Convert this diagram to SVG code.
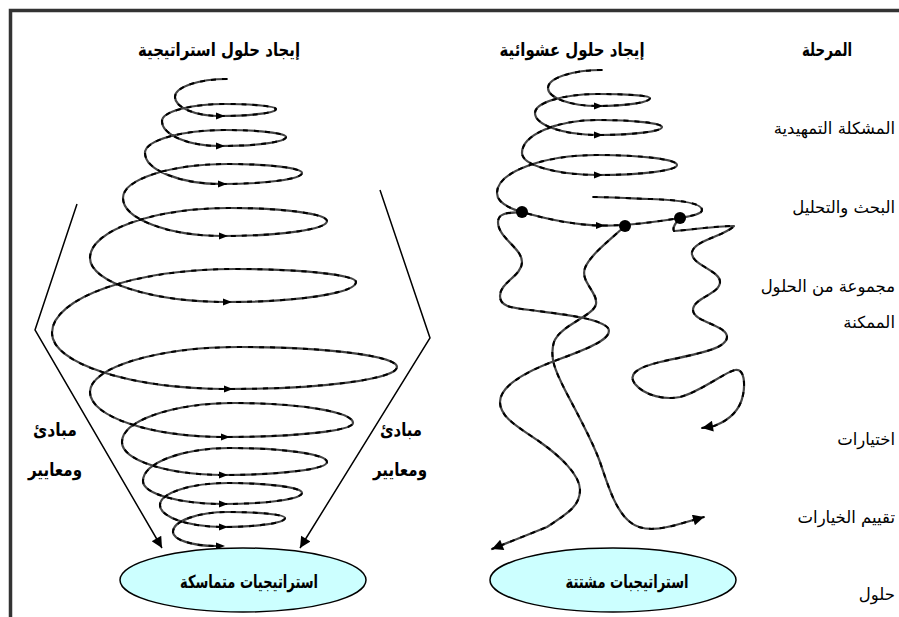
<svg xmlns="http://www.w3.org/2000/svg" xmlns:xlink="http://www.w3.org/1999/xlink" width="899" height="617" viewBox="0 0 899 617">
<style>
.t{font-family:"DejaVu Sans","Noto Sans",sans-serif;fill:#000}
.b{font-weight:bold;font-size:18px}
.n{font-size:16.5px}
.base{fill:none;stroke:#444;stroke-width:2.2;stroke-linecap:round;stroke-linejoin:round}
.dash{fill:none;stroke:#000;stroke-width:2;stroke-dasharray:5 6}
.side{fill:none;stroke:#000;stroke-width:1.5}
.ell{fill:#ccffff;stroke:#000;stroke-width:1.5}
</style>
<defs>
<marker id="tri" viewBox="0 0 10 10" refX="10" refY="5" markerWidth="14" markerHeight="11" markerUnits="userSpaceOnUse" orient="auto">
<path d="M0,0 L10,5 L0,10 Z" fill="#000"/>
</marker>
<path id="sa" d="M-4,-3.5 L5,0 L-4,3.5 Z" fill="#000"/>
<path id="spiralL" d="M227,79 C198.4,79 175,87.1 175,97 C175,107.5 195.3,116 220,116 C250.8,116 276,112.9 276,109 C276,106.3 253,104 225,104 C190.4,104 162,111.7 162,121 C162,134.8 188.1,146 220,146 C256.3,146 286,142 286,137 C286,133.2 258.6,130 225,130 C181,130 145,140.4 145,153 C145,170 179.7,184 222,184 C266,184 302,179 302,173 C302,168 268.7,164 228,164 C170.3,164 123,179.3 123,198 C123,218.9 168,236 223,236 C280.2,236 327,229.3 327,221 C327,213.9 283.4,208 230,208 C153,208 90,230.5 90,258 C90,282.2 151.7,302 227,302 C298,302 356,293 356,282 C356,274.9 301.6,269 235,269 C134.4,269 52,297.8 52,333 C52,363.8 131.2,389 228,389 C321,389 397,379.1 397,367 C397,356 326.4,347 240,347 C157.5,347 90,367.3 90,392 C90,416.8 150.8,437 225,437 C295.4,437 353,430.7 353,423 C353,412 299.9,403 235,403 C172.9,403 122,420.6 122,442 C122,460.2 167.5,475 223,475 C280.2,475 327,469.2 327,462 C327,454.3 283.4,448 230,448 C182.2,448 143,462.9 143,481 C143,493.7 179,504 223,504 C266.5,504 302,499 302,493 C302,487.5 268.7,483 228,483 C190.6,483 160,492.9 160,505 C160,517.1 188.4,527 223,527 C257.1,527 285,523 285,518 C285,514.7 259.4,512 228,512 C197.8,512 173,521 173,532 C173,539.7 192.4,546 216,546"/>
<path id="spiralR" d="M602,70 C572.3,70 548,78.1 548,88 C548,97.9 570.5,106 598,106 C626.6,106 650,102.4 650,98 C650,95.8 626.6,94 598,94 C563.4,94 535,102.6 535,113 C535,125.1 563.4,135 598,135 C633.2,135 662,131.4 662,127 C662,123.2 633.2,120 598,120 C556.2,120 522,134.9 522,153 C522,165.1 556.2,175 598,175 C641.5,175 677,170.5 677,165 C677,159.5 641.5,155 598,155 C542.5,155 497,172.1 497,193 C497,202 508,208 522,212 C550,220 575,225 600,225.5 C620,226 650,223 680,218 C692,216 702,214 702,210 C702,203 680,200 650,199 C625,198 605,197 593,197"/>
<path id="wavyA" d="M522,212 C510,213 498,212 498,222 C498,238 522,248 522,262 C522,276 500,282 500,296 C500,306 510,308 530,310 C560,314 600,318 608,328 C614,338 590,348 557,360 C530,370 500,385 500,402 C500,418 520,428 540,442 C560,456 580,475 580,490 C580,505 570,512 547,527 L492,549"/>
<path id="wavyB" d="M625,226 C610,240 590,255 585,268 C580,282 598,292 596,304 C594,316 560,325 554,342 C549,358 556,372 565,390 C578,415 592,440 600,462 C608,485 615,510 630,522 C642,532 660,530 683,523 L704,517"/>
<path id="wavyC" d="M680,218 C676,222 672,228 674,231 C690,230 715,226 734,226 C725,236 695,240 692,252 C690,265 720,270 720,282 C720,294 693,298 693,310 C693,322 727,325 727,337 C727,350 690,355 660,362 C635,368 628,375 635,384 C645,396 665,400 680,397 C700,392 725,372 735,370 C745,368 745,385 743,395 C740,410 730,420 714,426 L702,428"/>
</defs>
<rect x="10.5" y="10.5" width="930" height="650" fill="none" stroke="#333" stroke-width="3.5"/>

<g id="connectors">
<use href="#spiralL" class="base"/>
<use href="#spiralL" class="dash"/>
<use href="#spiralR" class="base"/>
<use href="#spiralR" class="dash"/>
<use href="#wavyA" class="base" marker-end="url(#tri)"/>
<use href="#wavyA" class="dash"/>
<use href="#wavyB" class="base" marker-end="url(#tri)"/>
<use href="#wavyB" class="dash"/>
<use href="#wavyC" class="base" marker-end="url(#tri)"/>
<use href="#wavyC" class="dash"/>
<g id="spiral-arrows">
<use href="#sa" x="220" y="116"/><use href="#sa" x="220" y="146"/><use href="#sa" x="222" y="184"/><use href="#sa" x="223" y="236"/><use href="#sa" x="227" y="302"/><use href="#sa" x="228" y="389"/><use href="#sa" x="225" y="437"/><use href="#sa" x="223" y="475"/><use href="#sa" x="223" y="504"/><use href="#sa" x="223" y="527"/><use href="#sa" x="220" y="546"/>
<use href="#sa" x="598" y="106"/><use href="#sa" x="598" y="135"/><use href="#sa" x="598" y="175"/><use href="#sa" x="600" y="225.5"/>
</g>
<g id="dots" fill="#000">
<circle cx="522" cy="212" r="6"/><circle cx="625" cy="226" r="6"/><circle cx="680" cy="218" r="6"/>
</g>
<path id="sideL" class="side" marker-end="url(#tri)" d="M77,204 L35,330 L162,548"/>
<path id="sideR" class="side" marker-end="url(#tri)" d="M380,190 L430,338 L300,548"/>
</g>

<g id="title-strategic"><text class="t b" x="219" y="56" text-anchor="middle" textLength="162" lengthAdjust="spacingAndGlyphs">إيجاد حلول استراتيجية</text></g>
<g id="title-random"><text class="t b" x="572" y="56" text-anchor="middle" textLength="145" lengthAdjust="spacingAndGlyphs">إيجاد حلول عشوائية</text></g>
<g id="title-stage"><text class="t b" x="827" y="56" text-anchor="middle" textLength="50" lengthAdjust="spacingAndGlyphs">المرحلة</text></g>

<g id="principles-left">
<text class="t b" x="55" y="436" text-anchor="middle" textLength="44" lengthAdjust="spacingAndGlyphs">مبادئ</text>
<text class="t b" x="55" y="476" text-anchor="middle" textLength="54" lengthAdjust="spacingAndGlyphs">ومعايير</text>
</g>
<g id="principles-right">
<text class="t b" x="401" y="436" text-anchor="middle" textLength="42" lengthAdjust="spacingAndGlyphs">مبادئ</text>
<text class="t b" x="400" y="476" text-anchor="middle" textLength="54" lengthAdjust="spacingAndGlyphs">ومعايير</text>
</g>

<g id="node-coherent">
<ellipse class="ell" cx="243" cy="580" rx="123" ry="32"/>
<text class="t b" x="249" y="588" text-anchor="middle" textLength="138" lengthAdjust="spacingAndGlyphs" font-size="17">استراتيجيات متماسكة</text>
</g>
<g id="node-scattered">
<ellipse class="ell" cx="613" cy="580" rx="123" ry="32"/>
<text class="t b" x="627" y="588" text-anchor="middle" textLength="123" lengthAdjust="spacingAndGlyphs" font-size="17">استراتيجبات مشتتة</text>
</g>

<g id="stages">
<text class="t n" x="895" y="134" text-anchor="end">المشكلة التمهيدية</text>
<text class="t n" x="895" y="213" text-anchor="end">البحث والتحليل</text>
<text class="t n" x="895" y="292" text-anchor="end">مجموعة من الحلول</text>
<text class="t n" x="895" y="328" text-anchor="end">الممكنة</text>
<text class="t n" x="895" y="445" text-anchor="end">اختيارات</text>
<text class="t n" x="895" y="523" text-anchor="end">تقييم الخيارات</text>
<text class="t n" x="895" y="600" text-anchor="end">حلول</text>
</g>
</svg>
